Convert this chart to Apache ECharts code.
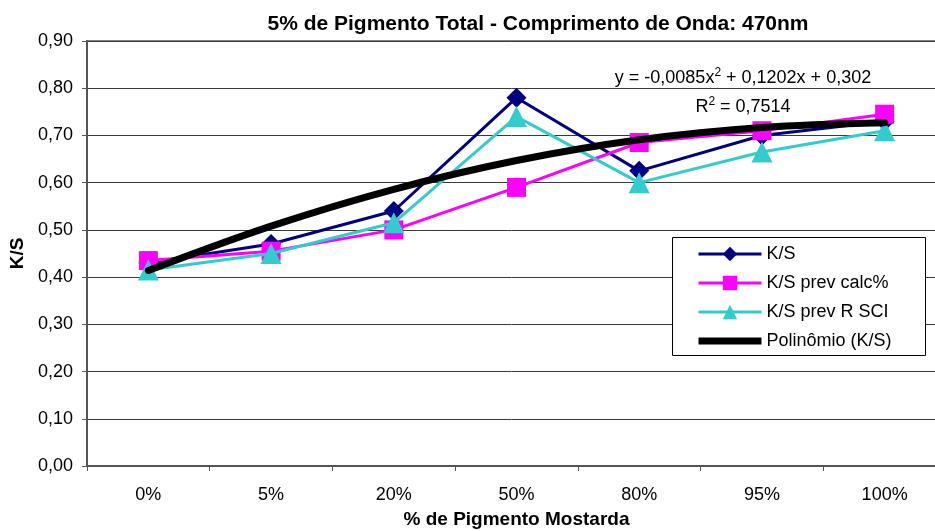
<!DOCTYPE html>
<html>
<head>
<meta charset="utf-8">
<script src="https://cdn.jsdelivr.net/npm/echarts@6/dist/echarts.min.js"></script>
<style>html,body{margin:0;padding:0;background:#fff}#c{width:935px;height:531px}</style>
</head>
<body>
<div id="c"></div>
<script>
var categories = ['0%', '5%', '20%', '50%', '80%', '95%', '100%'];
var ksValues = [0.43, 0.47, 0.54, 0.78, 0.625, 0.70, 0.73];
var calcValues = [0.435, 0.455, 0.50, 0.59, 0.685, 0.71, 0.745];
var sciValues = [0.415, 0.45, 0.515, 0.74, 0.60, 0.665, 0.71];
var trendValues = [0.414, 0.508, 0.586, 0.647, 0.691, 0.717, 0.727];
var seriesNames = ['K/S', 'K/S prev calc%', 'K/S prev R SCI', 'Polinômio (K/S)'];
var titleText = '5% de Pigmento Total - Comprimento de Onda: 470nm';
var xTitle = '% de Pigmento Mostarda';
var yTitle = 'K/S';
var equationText = 'y = -0,0085x{sup|2} + 0,1202x + 0,302';
var r2Text = 'R{sup|2} = 0,7514';

var FONT = 'Liberation Sans, Arial, sans-serif';
var chart = echarts.init(document.getElementById('c'), null, {renderer: 'canvas'});
chart.setOption({
  animation: false,
  backgroundColor: '#ffffff',
  title: {
    text: titleText,
    left: 533,
    top: 9,
    textAlign: 'center',
    textStyle: {fontFamily: FONT, fontSize: 21, fontWeight: 'bold', color: '#000'}
  },
  grid: {left: 87, top: 41, width: 859, bottom: 65, show: true, borderColor: '#808080', borderWidth: 2,
    backgroundColor: 'transparent', outerBoundsMode: 'none', containLabel: false},
  xAxis: {
    type: 'category',
    data: categories,
    boundaryGap: true,
    name: xTitle,
    nameLocation: 'middle',
    nameGap: 44,
    nameTextStyle: {fontFamily: FONT, fontSize: 19, fontWeight: 'bold', color: '#000'},
    axisLine: {lineStyle: {color: '#555', width: 2}},
    axisTick: {show: true, length: 5, lineStyle: {color: '#555', width: 1}},
    axisLabel: {fontFamily: FONT, fontSize: 18, color: '#000', margin: 20},
    splitLine: {show: false}
  },
  yAxis: {
    type: 'value',
    min: 0,
    max: 0.9,
    interval: 0.1,
    name: yTitle,
    nameLocation: 'middle',
    nameRotate: 90,
    nameGap: 51,
    nameTextStyle: {fontFamily: FONT, fontSize: 19, fontWeight: 'bold', color: '#000'},
    axisLine: {show: true, lineStyle: {color: '#555', width: 2}},
    axisTick: {show: true, length: 5, lineStyle: {color: '#555', width: 1}},
    axisLabel: {fontFamily: FONT, fontSize: 18, color: '#000', margin: 14,
      formatter: function (v) { return v.toFixed(2).replace('.', ','); }},
    splitLine: {show: true, lineStyle: {color: '#3a3a3a', width: 1}}
  },
  legend: {
    orient: 'vertical',
    left: 697,
    top: 245,
    padding: 0,
    z: 8,
    itemWidth: 63,
    itemHeight: 18,
    itemGap: 11,
    lineStyle: {width: 3},
    data: [
      {name: seriesNames[0]},
      {name: seriesNames[1]},
      {name: seriesNames[2]},
      {name: seriesNames[3], icon: 'path://M0,0L63,0L63,7L0,7Z', itemStyle: {color: '#000'}}
    ],
    textStyle: {fontFamily: FONT, fontSize: 18, color: '#000'}
  },
  graphic: [
    {type: 'rect', shape: {x: 672.5, y: 237.5, width: 253, height: 118},
     style: {fill: '#fff', stroke: '#000', lineWidth: 1}, z: 6},
    {type: 'text', x: 743, y: 78, z: 10,
     style: {text: equationText, fontFamily: FONT, fontSize: 18, fill: '#000', align: 'center', verticalAlign: 'middle',
       rich: {sup: {fontSize: 12, verticalAlign: 'top', padding: [0, 0, 10, 0], fontFamily: FONT}}}},
    {type: 'text', x: 743, y: 107, z: 10,
     style: {text: r2Text, fontFamily: FONT, fontSize: 18, fill: '#000', align: 'center', verticalAlign: 'middle',
       rich: {sup: {fontSize: 12, verticalAlign: 'top', padding: [0, 0, 10, 0], fontFamily: FONT}}}}
  ],
  series: [
    {name: seriesNames[0], type: 'line', data: ksValues, symbol: 'diamond', symbolSize: 20,
     lineStyle: {color: '#000080', width: 3}, itemStyle: {color: '#000080'}, z: 2},
    {name: seriesNames[1], type: 'line', data: calcValues, symbol: 'rect', symbolSize: 19,
     lineStyle: {color: '#ff00ff', width: 3}, itemStyle: {color: '#ff00ff'}, z: 3},
    {name: seriesNames[2], type: 'line', data: sciValues, symbol: 'triangle', symbolSize: 21,
     lineStyle: {color: '#33cccc', width: 3}, itemStyle: {color: '#33cccc'}, z: 4},
    {name: seriesNames[3], type: 'line', data: trendValues, symbol: 'none', smooth: 0.35,
     lineStyle: {color: '#000', width: 7, cap: 'round'}, itemStyle: {color: '#000'}, z: 5}
  ]
});
</script>
</body>
</html>
